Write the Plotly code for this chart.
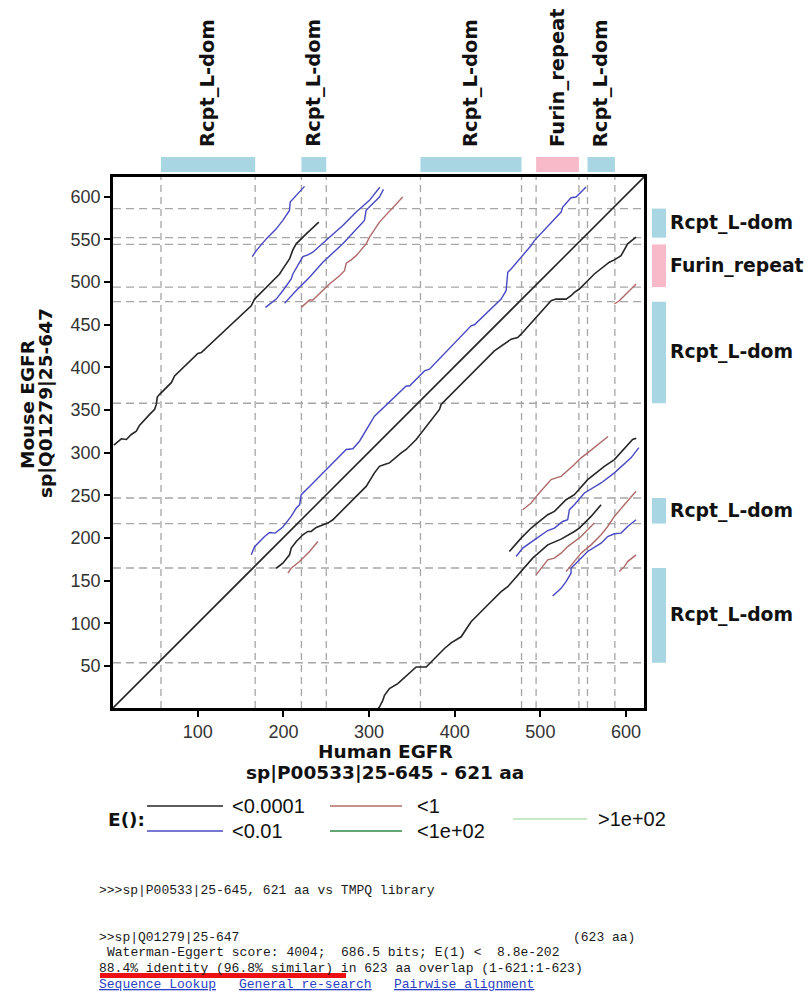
import plotly.graph_objects as go

# ---------------- data ----------------
x_ticks = [100, 200, 300, 400, 500, 600]
y_ticks = [50, 100, 150, 200, 250, 300, 350, 400, 450, 500, 550, 600]

human_domain_names = ["Rcpt_L-dom", "Rcpt_L-dom", "Rcpt_L-dom", "Furin_repeat", "Rcpt_L-dom"]
human_domain_start = [57, 221, 360, 495, 555]
human_domain_end = [167, 250, 478, 545, 587]

mouse_domain_names = ["Rcpt_L-dom", "Rcpt_L-dom", "Rcpt_L-dom", "Furin_repeat", "Rcpt_L-dom"]
mouse_domain_start = [54, 217, 358, 494, 552]
mouse_domain_end = [165, 247, 477, 544, 586]

# E() < 0.0001 (black)
black_diag_x = [1, 621]
black_diag_y = [1, 623]
black_upper_x = [2, 4.9, 10.7, 16.6, 22.4, 28.2, 32.1, 43.8, 49.6, 51.6, 52.7, 55.4, 69.1, 72.9, 100.1, 104.1,
                 162.4, 166.3, 178, 195.5, 199.3, 207.1, 211, 214.9, 226.6, 241.3]
black_upper_y = [309, 311.6, 316.3, 315.5, 321.4, 325.3, 332.3, 344.9, 350.8, 356.6, 365.2, 368.4, 382.1, 389.9,
                 416.2, 417.4, 472.2, 480, 491.8, 509.4, 515.3, 527, 537.6, 544.7, 556.4, 570.2]
black_f_x = [191.6, 199.3, 207.1, 209.1, 215, 222.7, 228.5, 232.4, 238.3, 248, 251.8, 257.7, 296.6, 306.3, 312.1,
             318, 323.8, 337.5, 343.3, 355, 378.3, 382.2, 384.1, 403.5, 446.3, 465.8, 473.5, 477.5, 512.5, 518.3,
             530, 535.8, 539.7, 545.5, 563, 580.5, 586.4, 594.2, 600, 601.9, 611.7]
black_f_y = [164.7, 170.6, 180.4, 188.3, 196, 203.9, 207.8, 207.8, 212.5, 216.8, 217.6, 221.5, 260.6, 276.4, 284.1,
             286.1, 288.1, 299.9, 303.8, 315.5, 344.9, 350.8, 356.6, 376.3, 419.3, 433, 435, 438.9, 478, 480,
             480, 483.9, 487.9, 491.8, 509.4, 523.2, 525.9, 530.9, 542.7, 544.7, 552.5]
black_h_x = [310.5, 312.1, 316, 318, 323.8, 327.7, 333.5, 355, 366.7, 388, 395.8, 407.5, 419.1, 438.5, 454.2,
             461.9, 477.5, 491, 508.6, 524.2, 539.7, 545.5, 559.2, 570.9]
black_h_y = [1, 2.1, 10, 15.9, 23.7, 26.4, 29.6, 49.1, 49.1, 70.7, 77.3, 84.4, 102, 121.6, 137.3,
             143.1, 160.8, 176.5, 192.1, 198.8, 207.8, 211.8, 225.4, 239.1]
black_i_x = [463.8, 477.5, 489.2, 508.6, 516.4, 530, 539.7, 555.2, 574.7, 586.4, 607.7, 612]
black_i_y = [184.3, 200, 211.8, 227.4, 231.3, 245, 250.9, 268.5, 284.1, 292, 315.5, 317]

# E() < 0.01 (blue)
blue_c1_x = [163.6, 168.3, 179.9, 191.6, 199.3, 207.1, 207.9, 213, 224.6]
blue_c1_y = [529.7, 536.8, 550.5, 562.3, 572.1, 583.8, 593.7, 599.5, 612]
blue_c2_x = [179.1, 191.6, 199.3, 209.1, 211, 218.8, 222.7, 228.5, 234.3, 253.8, 269.3, 284.9, 300.5, 312.5]
blue_c2_y = [470.3, 480, 489.8, 503.5, 509.4, 523.2, 529.7, 531.7, 534.9, 552.5, 566.2, 581.9, 595.6, 611]
blue_c3_x = [201.3, 213, 230.5, 246, 269.3, 288.8, 294.6, 296.5, 312.1, 316.8]
blue_c3_y = [475, 488, 505.5, 523.2, 544.7, 566.2, 572, 584, 599.5, 608.5]
blue_e_x = [162.4, 166.3, 178, 183.8, 190.4, 199.3, 209, 215, 218.8, 220.8, 230.5, 250, 273.3, 281, 288.8, 306.3,
            343.3, 347.2, 364.7, 370.5, 419.1, 423, 450.2, 454.2, 460, 461.9, 465.8, 489.2, 493, 524.2, 526.1,
            535.8, 541.7, 553.3]
blue_e_y = [180.4, 190, 202, 206.6, 205.9, 213, 225.4, 235.2, 239, 250.9, 260.6, 280, 303.8, 304.6, 313.5, 342.9,
            378.2, 378.2, 395.8, 397.8, 448.7, 449.9, 476.2, 480, 489.8, 511.4, 515.3, 542.7, 548.5, 581.9, 587.8,
            598.7, 599.5, 611.3]
blue_j_x = [471.7, 479.4, 493, 500.8, 508.6, 516.4, 526.1, 531.9, 533.9, 539.7, 551.4, 570.9, 578.6, 586.4,
            605.8, 615]
blue_j_y = [178.4, 188.3, 198, 203.9, 208.9, 211.8, 219.5, 221.5, 233.3, 239.1, 252.9, 264.6, 270.5, 276.4,
            294, 306]
blue_n_x = [514.4, 524.2, 530, 535.8, 535.8, 543.5, 555.2, 570.9, 578.6, 586.4, 594.2, 601.9, 611.7]
blue_n_y = [132.2, 141.2, 149, 158.9, 164.7, 172.5, 184.3, 194.1, 201.9, 205.1, 205.9, 213.6, 221.5]

# E() < 1 (red)
red_d_x = [220.8, 230.5, 234.3, 246, 253.8, 265.5, 271.3, 273.3, 279.1, 284.9, 296.6, 300.5, 312.1, 339.3]
red_d_y = [470.3, 478.9, 478.9, 489.8, 497.7, 507.4, 513.3, 522, 525.9, 530.9, 544.7, 552.5, 570.2, 599.5]
red_g_x = [586.4, 592.2, 598, 611.7]
red_g_y = [474.2, 478, 483.9, 497.7]
red_k_x = [479.4, 489.2, 496.9, 512.5, 518.3, 524.2, 539.7, 547.5, 555.2, 563, 574.7, 579]
red_k_y = [233.3, 241.1, 250.9, 268.5, 270.5, 272.4, 286.1, 294, 299.9, 305.8, 315.5, 319]
red_l_x = [495, 500.8, 508.6, 516.4, 524.2, 531.9, 539.7, 547.5, 555.2, 563]
red_l_y = [156.9, 164.7, 174.5, 176.5, 182.4, 190.1, 196, 201.9, 209.8, 217.6]
red_m_x = [530, 539.7, 547.5, 559.2, 570.9, 578.6, 586.4, 598, 611.7]
red_m_y = [160.8, 172.5, 182.4, 192.1, 203.9, 213.6, 225.4, 239.1, 254.8]
red_o_x = [592.2, 598, 601.9, 611.7]
red_o_y = [160.8, 166.6, 172.5, 180.4]
red_p_x = [205.2, 209.1, 218.8, 230.5, 240.2]
red_p_y = [158.9, 164.7, 172.5, 184.3, 196]

legend_labels = ["<0.0001", "<0.01", "<1", "<1e+02", ">1e+02"]

footer_query = ">>>sp|P00533|25-645, 621 aa vs TMPQ library"
footer_hit = ">>sp|Q01279|25-647"
footer_len = "(623 aa)"
footer_score = "Waterman-Eggert score: 4004;\u00a0 686.5 bits; E(1) <\u00a0 8.8e-202"
footer_ident = "88.4% identity (96.8% similar) in 623 aa overlap (1-621:1-623)"
footer_links = ["Sequence Lookup", "General re-search", "Pairwise alignment"]

# ---------------- styles / layout ----------------
W, H = 808, 992
PL, PR, PT, PB = 113, 644, 177, 708

def fx(px):
    return (px - PL) / (PR - PL)

def fy(py):
    return (PB - py) / (PB - PT)

C_BLACK = "#262626"
C_BLUE = "#4848c4"
C_RED = "#b06a6a"
C_GREEN = "#2f8a48"
C_LGREEN = "#b4e2b4"
C_LBLUE = "#a9d6e3"
C_PINK = "#f8b9c8"
SANS = "Liberation Sans, Arial, sans-serif"
BOLD = "DejaVu Sans, Liberation Sans, sans-serif"
MONO = "Liberation Mono, DejaVu Sans Mono, monospace"

fig = go.Figure()

segments = [
    (red_d_x, red_d_y, C_RED), (red_g_x, red_g_y, C_RED), (red_k_x, red_k_y, C_RED),
    (red_l_x, red_l_y, C_RED), (red_m_x, red_m_y, C_RED), (red_o_x, red_o_y, C_RED),
    (red_p_x, red_p_y, C_RED),
    (blue_c1_x, blue_c1_y, C_BLUE), (blue_c2_x, blue_c2_y, C_BLUE), (blue_c3_x, blue_c3_y, C_BLUE),
    (blue_e_x, blue_e_y, C_BLUE), (blue_j_x, blue_j_y, C_BLUE), (blue_n_x, blue_n_y, C_BLUE),
    (black_diag_x, black_diag_y, C_BLACK), (black_upper_x, black_upper_y, C_BLACK),
    (black_f_x, black_f_y, C_BLACK), (black_h_x, black_h_y, C_BLACK), (black_i_x, black_i_y, C_BLACK),
]
for sx, sy, col in segments:
    fig.add_trace(go.Scatter(x=sx, y=sy, mode="lines", showlegend=False, hoverinfo="skip",
                             line=dict(color=col, width=1.6 if col == C_BLACK else 1.4)))

shapes = []
annotations = []

# dashed grid at domain boundaries
for v in human_domain_start + human_domain_end:
    shapes.append(dict(type="line", xref="x", yref="paper", x0=v, x1=v, y0=0, y1=1, layer="below",
                       line=dict(color="#a6a6a6", width=1.3, dash="7px,5px")))
for v in mouse_domain_start + mouse_domain_end:
    shapes.append(dict(type="line", xref="paper", yref="y", x0=0, x1=1, y0=v, y1=v, layer="below",
                       line=dict(color="#a6a6a6", width=1.3, dash="8px,5px")))

# top domain bars + labels
for name, s, e in zip(human_domain_names, human_domain_start, human_domain_end):
    col = C_PINK if name.startswith("Furin") else C_LBLUE
    shapes.append(dict(type="rect", xref="x", yref="paper", x0=s, x1=e, y0=fy(172), y1=fy(157),
                       fillcolor=col, line=dict(width=0)))
    annotations.append(dict(x=(s + e) / 2, xref="x", y=fy(149), yref="paper", text="<b>%s</b>" % name,
                            textangle=-90, xanchor="center", yanchor="bottom", showarrow=False,
                            font=dict(family=BOLD, size=19.5, color="#111")))

# right domain bars + labels
for name, s, e in zip(mouse_domain_names, mouse_domain_start, mouse_domain_end):
    col = C_PINK if name.startswith("Furin") else C_LBLUE
    shapes.append(dict(type="rect", xref="paper", yref="y", x0=fx(652), x1=fx(666), y0=s, y1=e,
                       fillcolor=col, line=dict(width=0)))
    annotations.append(dict(x=fx(668), xref="paper", y=(s + e) / 2, yref="y", text="<b>%s</b>" % name,
                            xanchor="left", yanchor="middle", showarrow=False,
                            font=dict(family=BOLD, size=18.8, color="#111")))

# axis titles
annotations += [
    dict(x=fx(385), y=fy(751), xref="paper", yref="paper", text="<b>Human EGFR</b>", showarrow=False,
         xanchor="center", yanchor="middle", font=dict(family=BOLD, size=18.5, color="#111")),
    dict(x=fx(385), y=fy(772), xref="paper", yref="paper", text="<b>sp|P00533|25-645 - 621 aa</b>",
         showarrow=False, xanchor="center", yanchor="middle", font=dict(family=BOLD, size=18.5, color="#111")),
    dict(x=fx(27), y=fy(405), xref="paper", yref="paper", text="<b>Mouse EGFR</b>", showarrow=False,
         textangle=-90, xanchor="center", yanchor="middle", font=dict(family=BOLD, size=18.5, color="#111")),
    dict(x=fx(45), y=fy(403), xref="paper", yref="paper", text="<b>sp|Q01279|25-647</b>", showarrow=False,
         textangle=-90, xanchor="center", yanchor="middle", font=dict(family=BOLD, size=18.5, color="#111")),
]

# legend
annotations.append(dict(x=fx(106), y=fy(819), xref="paper", yref="paper", text="<b>E():</b>",
                        showarrow=False, xanchor="left", yanchor="middle",
                        font=dict(family=BOLD, size=18.5, color="#111")))
legend_spec = [  # (x0, x1, y, label_x) in pixels
    (147, 223, 806, 230), (147, 223, 831, 230), (330, 402, 806, 415), (330, 402, 831, 415), (513, 587, 819, 596)
]
legend_colors = [C_BLACK, C_BLUE, C_RED, C_GREEN, C_LGREEN]
for (x0, x1, yy, lx), lab, col in zip(legend_spec, legend_labels, legend_colors):
    shapes.append(dict(type="line", xref="paper", yref="paper", x0=fx(x0), x1=fx(x1), y0=fy(yy), y1=fy(yy),
                       line=dict(color=col, width=1.6)))
    annotations.append(dict(x=fx(lx), y=fy(yy), xref="paper", yref="paper", text=lab, showarrow=False,
                            xanchor="left", yanchor="middle", font=dict(family=SANS, size=20, color="#111")))

# footer text
def foot(text, px, py, anchor="left", color="#1a1a1a"):
    annotations.append(dict(x=fx(px), y=fy(py), xref="paper", yref="paper", text=text, showarrow=False,
                            xanchor=anchor, yanchor="middle", font=dict(family=MONO, size=13, color=color)))

foot(footer_query, 97, 890)
foot(footer_hit, 97, 937)
foot(footer_len, 637, 937, anchor="right")
foot(footer_score, 105, 952)
foot(footer_ident, 97, 968)
shapes.append(dict(type="rect", xref="paper", yref="paper", x0=fx(100), x1=fx(346), y0=fy(978), y1=fy(973),
                   fillcolor="#ee1010", line=dict(width=0)))
link_x = [97, 237, 392]
for lab, lx in zip(footer_links, link_x):
    foot("<u>%s</u>" % lab, lx, 984, color="#2b3fc4")

fig.update_layout(
    width=W, height=H, autosize=False,
    margin=dict(l=PL, r=W - PR, t=PT, b=H - PB, pad=0),
    paper_bgcolor="white", plot_bgcolor="white",
    shapes=shapes, annotations=annotations,
    xaxis=dict(range=[1, 621], tickvals=x_ticks, ticks="outside", ticklen=6, tickwidth=1.5, tickcolor="black",
               showline=True, mirror=True, linewidth=2.5, linecolor="black", showgrid=False, zeroline=False,
               tickfont=dict(family=SANS, size=18, color="#333")),
    yaxis=dict(range=[1, 623], tickvals=y_ticks, ticks="outside", ticklen=6, tickwidth=1.5, tickcolor="black",
               showline=True, mirror=True, linewidth=2.5, linecolor="black", showgrid=False, zeroline=False,
               tickfont=dict(family=SANS, size=18, color="#333")),
)

fig.write_html("out.html", config={"displayModeBar": False},
               post_script="document.body.style.margin='0';")
